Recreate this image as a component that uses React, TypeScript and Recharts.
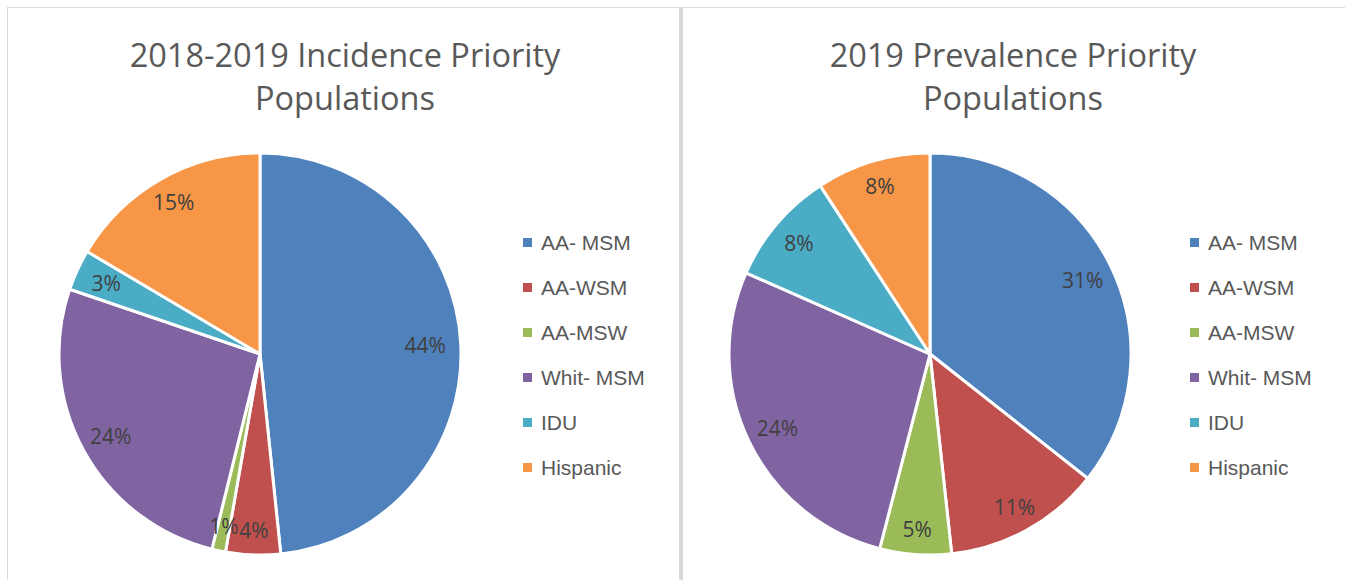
import React from 'react';
import { PieChart, Pie, Cell, Legend } from 'recharts';

const categories = ['AA- MSM', 'AA-WSM', 'AA-MSW', 'Whit- MSM', 'IDU', 'Hispanic'];
const incidenceValues = [44, 4, 1, 24, 3, 15];
const prevalenceValues = [31, 11, 5, 24, 8, 8];
const titles = ['2018-2019 Incidence Priority Populations', '2019 Prevalence Priority Populations'];

const COLORS = ['#4F81BD', '#C0504D', '#9BBB59', '#8064A2', '#4BACC6', '#F79646'];
const RAD = Math.PI / 180;

const toRows = (values: number[]) => categories.map((name, i) => ({ name, value: values[i] }));

// data labels sit a bit further out near top / bottom, like Excel's best fit
const renderLabel = (props: any) => {
  const { cx, cy, midAngle, outerRadius, value } = props;
  const s = Math.sin(-midAngle * RAD);
  const c = Math.cos(-midAngle * RAD);
  const d = outerRadius * (0.82 + 0.055 * Math.abs(s));
  return (
    <text
      x={cx + d * c}
      y={cy + d * s}
      fill="#404040"
      fontSize={21}
      fontFamily="'Open Sans', sans-serif"
      textAnchor="middle"
      dominantBaseline="central"
    >
      {`${value}%`}
    </text>
  );
};

// legend keeps the series order (recharts would sort it by name)
const LegendList = () => (
  <div>
    {categories.map((name, i) => (
      <div key={`lg-${i}`} style={{ height: 45, display: 'flex', alignItems: 'center' }}>
        <span style={{ width: 9, height: 9, background: COLORS[i % COLORS.length], marginRight: 9, display: 'inline-block' }} />
        <span style={{ fontFamily: "'Liberation Sans', Arial, sans-serif", fontSize: 21, color: '#595959' }}>
          {name}
        </span>
      </div>
    ))}
  </div>
);

interface PanelProps {
  values: number[];
  left: number;
  width: number;
  cx: number;
  legendX: number;
  title: string;
  titleX: number;
}

const Panel: React.FC<PanelProps> = ({ values, left, width, cx, legendX, title, titleX }) => {
  const [line1, line2] = [title.replace(/ Populations$/, ''), 'Populations'];
  return (
    <div style={{ position: 'absolute', left, top: 0, width, height: 580 }}>
      <div
        style={{
          position: 'absolute',
          left: titleX - left - 300,
          top: 33,
          width: 600,
          textAlign: 'center',
          fontFamily: "'Open Sans', sans-serif",
          fontSize: 32.5,
          lineHeight: '43px',
          color: '#595959',
        }}
      >
        <div>{line1}</div>
        <div>{line2}</div>
      </div>
      <PieChart width={width} height={580} margin={{ top: 0, right: 0, bottom: 0, left: 0 }}>
        <Pie
          data={toRows(values)}
          dataKey="value"
          nameKey="name"
          cx={cx - left}
          cy={354}
          outerRadius={201}
          startAngle={90}
          endAngle={-270}
          stroke="#ffffff"
          strokeWidth={3}
          label={renderLabel}
          labelLine={false}
          isAnimationActive={false}
        >
          {values.map((_, i) => (
            <Cell key={`cell-${i}`} fill={COLORS[i % COLORS.length]} />
          ))}
        </Pie>
        <Legend
          layout="vertical"
          content={<LegendList />}
          wrapperStyle={{ position: 'absolute', left: legendX - left, top: 220, width: 160 }}
        />
      </PieChart>
    </div>
  );
};

export default function App() {
  return (
    <div style={{ position: 'absolute', left: 0, top: 0, width: 1345, height: 580, background: '#fff', overflow: 'hidden' }}>
      {/* frame lines */}
      <div style={{ position: 'absolute', left: 7, top: 7, width: 1338, height: 1, background: '#d9d9d9' }} />
      <div style={{ position: 'absolute', left: 7, top: 7, width: 1, height: 573, background: '#d9d9d9' }} />
      <div style={{ position: 'absolute', left: 679, top: 7, width: 4, height: 573, background: '#d9d9d9' }} />
      <Panel values={incidenceValues} left={8} width={670} cx={260} legendX={523} title={titles[0]} titleX={345} />
      <Panel values={prevalenceValues} left={684} width={661} cx={930} legendX={1190} title={titles[1]} titleX={1013} />
    </div>
  );
}
